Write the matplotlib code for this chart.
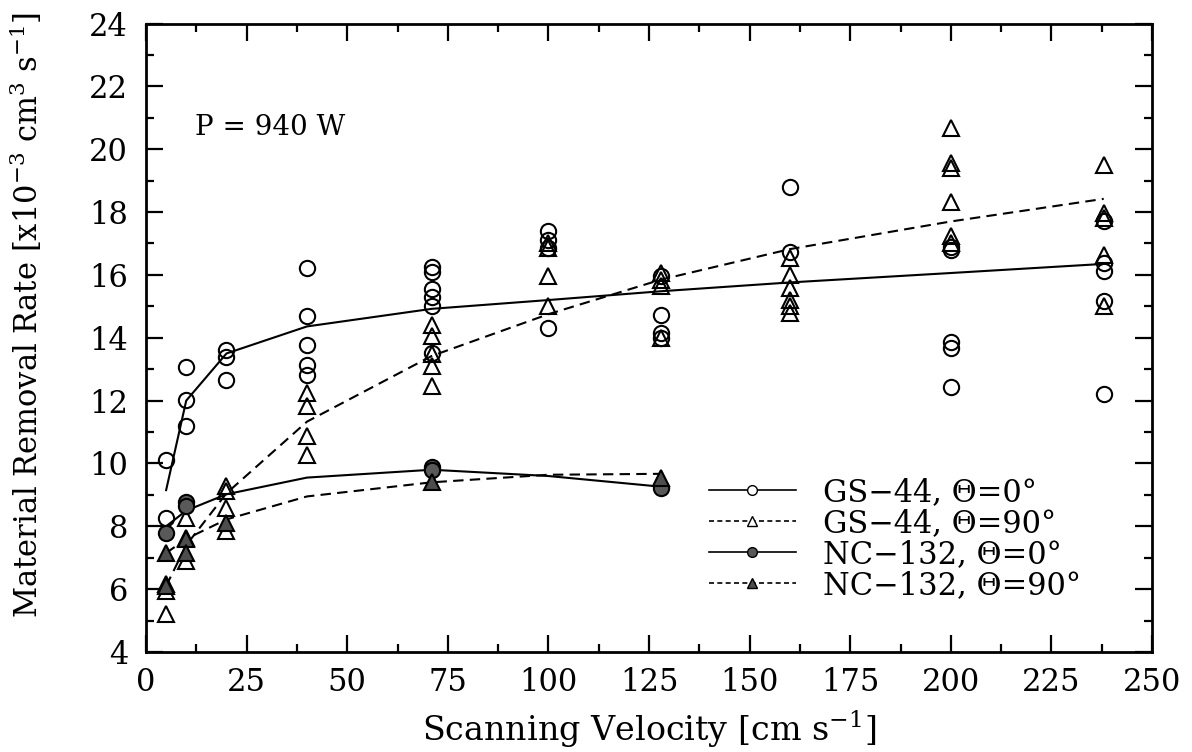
import numpy as np
import matplotlib
matplotlib.use('Agg')
import matplotlib.pyplot as plt
from matplotlib.lines import Line2D
from matplotlib.ticker import MultipleLocator

plt.rcParams['font.family'] = 'DejaVu Serif'
plt.rcParams['mathtext.fontset'] = 'dejavuserif'

# GS-44, theta = 0 deg (open circles)
gs0_x = [5, 5, 10, 10, 10, 20, 20, 20, 40, 40, 40, 40, 40,
         71, 71, 71, 71, 71, 71, 100, 100, 100, 100,
         128, 128, 128, 128, 160, 160, 200, 200, 200, 200, 200,
         238, 238, 238, 238, 238]
gs0_y = [10.1, 8.27, 13.07, 12.03, 11.2, 13.62, 13.4, 12.64, 16.22, 14.7, 13.78, 13.12, 12.8,
         16.25, 16.1, 15.55, 15.3, 15.02, 13.5, 17.39, 17.12, 16.85, 14.32,
         15.95, 14.73, 14.15, 13.99, 18.8, 16.72, 16.9, 16.8, 13.85, 13.68, 12.43,
         17.7, 16.38, 16.11, 15.16, 12.22]

# GS-44, theta = 90 deg (open triangles)
gs90_x = [5, 5, 5, 10, 10, 10, 20, 20, 20, 20, 40, 40, 40, 40,
          71, 71, 71, 71, 71, 100, 100, 100, 100, 128, 128, 128, 128,
          160, 160, 160, 160, 160, 160, 200, 200, 200, 200, 200, 200,
          238, 238, 238, 238, 238]
gs90_y = [6.15, 5.95, 5.2, 8.25, 7.62, 6.88, 9.28, 9.12, 8.58, 7.84, 12.24, 11.83, 10.86, 10.26,
          14.42, 14.05, 13.48, 13.1, 12.47, 17.0, 16.85, 15.98, 15.0, 16.05, 15.85, 15.65, 14.0,
          16.55, 16.0, 15.58, 15.21, 15.02, 14.79, 20.68, 19.56, 19.4, 18.31, 17.23, 17.0,
          19.5, 17.97, 17.8, 16.62, 15.02]

# NC-132, theta = 0 deg (shaded circles)
nc0_x = [5, 10, 10, 71, 71, 128]
nc0_y = [7.8, 8.78, 8.66, 9.88, 9.8, 9.21]

# NC-132, theta = 90 deg (shaded triangles)
nc90_x = [5, 5, 10, 10, 20, 71, 128]
nc90_y = [7.15, 6.1, 7.6, 7.14, 8.1, 9.4, 9.53]

# fitted curves
fit_x = [5, 10, 20, 40, 71, 100, 128, 160, 200, 238]
gs0_fit = [9.15, 12.0, 13.5, 14.36, 14.92, 15.2, 15.48, 15.76, 16.06, 16.35]
gs90_fit = [6.1, 7.4, 9.05, 11.33, 13.42, 14.75, 15.85, 16.82, 17.7, 18.42]
nc_x = [5, 10, 20, 40, 71, 100, 128]
nc0_fit = [8.0, 8.5, 9.02, 9.55, 9.8, 9.6, 9.26]
nc90_fit = [7.15, 7.6, 8.22, 8.95, 9.4, 9.64, 9.67]

fig = plt.figure(figsize=(11.92, 7.52), dpi=100)
ax = fig.add_axes([146 / 1192, 1 - 652 / 752, (1152 - 146) / 1192, (652 - 23.5) / 752])

dash = (0, (5, 3))
ax.plot(fit_x, gs0_fit, color='black', lw=1.5, ls='-')
ax.plot(fit_x, gs90_fit, color='black', lw=1.5, ls=dash)
ax.plot(nc_x, nc0_fit, color='black', lw=1.5, ls='-')
ax.plot(nc_x, nc90_fit, color='black', lw=1.5, ls=dash)

ms = 11
ax.plot(gs0_x, gs0_y, 'o', ms=ms, mfc='none', mec='black', mew=1.5)
ax.plot(gs90_x, gs90_y, '^', ms=ms, mfc='none', mec='black', mew=1.5)
ax.plot(nc0_x, nc0_y, 'o', ms=ms, mfc='0.35', mec='black', mew=1.5)
ax.plot(nc90_x, nc90_y, '^', ms=ms, mfc='0.3', mec='black', mew=1.5)

ax.set_xlim(0, 250)
ax.set_ylim(4, 24)
ax.xaxis.set_major_locator(MultipleLocator(25))
ax.xaxis.set_minor_locator(MultipleLocator(12.5))
ax.yaxis.set_major_locator(MultipleLocator(2))
ax.yaxis.set_minor_locator(MultipleLocator(1))
ax.tick_params(which='both', direction='in', top=True, right=True, width=1.6)
ax.tick_params(which='major', length=12, labelsize=22)
ax.tick_params(axis='x', which='major', pad=11)
ax.tick_params(axis='y', which='major', pad=13)
ax.tick_params(which='minor', length=6)
for sp in ax.spines.values():
    sp.set_linewidth(2)

ax.set_xlabel('Scanning Velocity [cm s$^{-1}$]', fontsize=24, labelpad=8)
ax.set_ylabel('Material Removal Rate [x10$^{-3}$ cm$^3$ s$^{-1}$]', fontsize=22)
ax.yaxis.set_label_coords(-0.1, 0.536)

ax.text(12.3, 20.7, 'P = 940 W', fontsize=20, va='center', ha='left')

handles = [
    Line2D([], [], color='black', lw=1.2, ls='-', marker='o', ms=7, mfc='white', mec='black'),
    Line2D([], [], color='black', lw=1.2, ls=(0, (3, 2)), marker='^', ms=7, mfc='white', mec='black'),
    Line2D([], [], color='black', lw=1.2, ls='-', marker='o', ms=7, mfc='0.35', mec='black'),
    Line2D([], [], color='black', lw=1.2, ls=(0, (3, 2)), marker='^', ms=7, mfc='0.3', mec='black'),
]
labels = ['GS\u221244, \u0398=0\u00b0', 'GS\u221244, \u0398=90\u00b0',
          'NC\u2212132, \u0398=0\u00b0', 'NC\u2212132, \u0398=90\u00b0']
ax.legend(handles, labels, loc='lower right', bbox_to_anchor=(0.945, 0.057), frameon=False,
          borderpad=0, fontsize=22, handlelength=2.85, handletextpad=0.9, labelspacing=0.0)

fig.savefig('out.png', dpi=100)
